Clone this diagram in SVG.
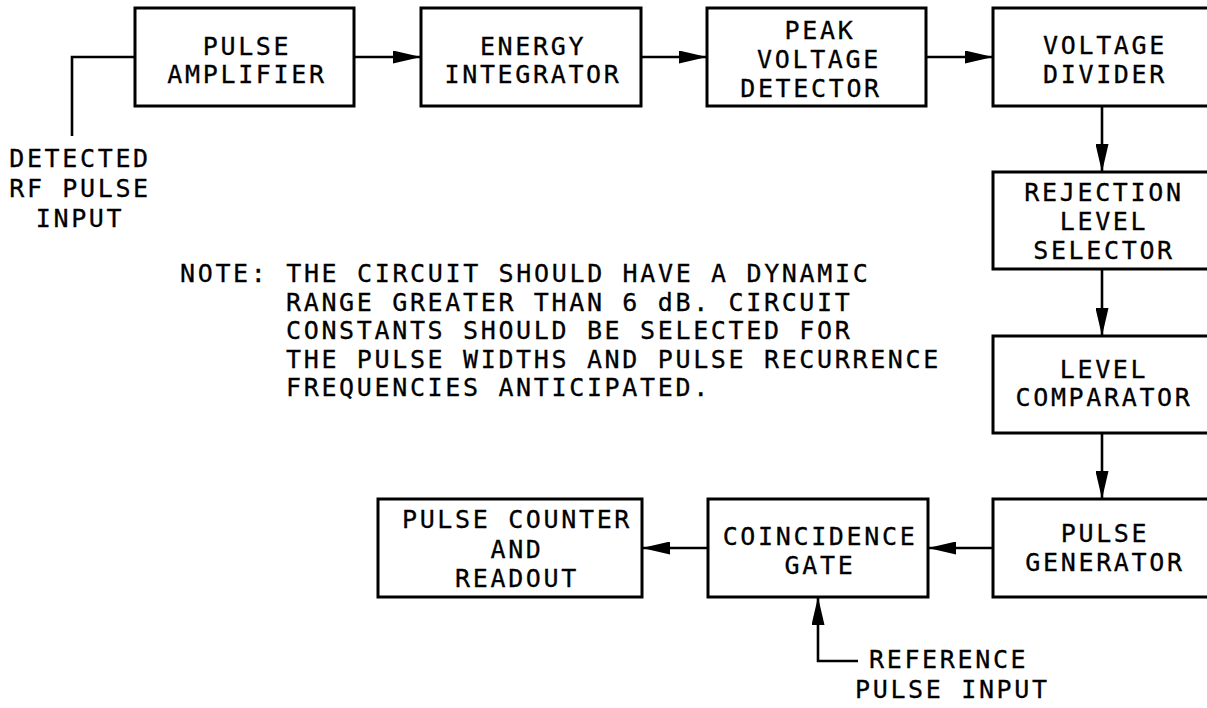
<svg xmlns="http://www.w3.org/2000/svg" width="1207" height="708" viewBox="0 0 1207 708">
<defs>
<style>
.box{fill:#fff;stroke:#000;stroke-width:3}
.ln{fill:none;stroke:#000;stroke-width:2.6}
.t{font-family:"DejaVu Sans Mono","Liberation Mono",monospace;font-size:25px;letter-spacing:2.65px;fill:#000;stroke:#000;stroke-width:0.3}
.c{text-anchor:middle}
</style>
<marker id="ah" markerUnits="userSpaceOnUse" markerWidth="28" markerHeight="13" refX="28" refY="6.5" orient="auto" viewBox="0 0 28 13">
<path d="M0,0 L28,6.5 L0,13 Z" fill="#000"/>
</marker>
</defs>
<rect width="1207" height="708" fill="#fff"/>
<g id="connectors">
<polyline class="ln" points="72,136 72,57 135,57"/>
<line class="ln" x1="354" y1="57" x2="421" y2="57" marker-end="url(#ah)"/>
<line class="ln" x1="641" y1="57" x2="707" y2="57" marker-end="url(#ah)"/>
<line class="ln" x1="926" y1="57" x2="993" y2="57" marker-end="url(#ah)"/>
<line class="ln" x1="1102" y1="106" x2="1102" y2="172" marker-end="url(#ah)"/>
<line class="ln" x1="1102" y1="269" x2="1102" y2="336" marker-end="url(#ah)"/>
<line class="ln" x1="1102" y1="433" x2="1102" y2="499" marker-end="url(#ah)"/>
<line class="ln" x1="993" y1="548" x2="928" y2="548" marker-end="url(#ah)"/>
<line class="ln" x1="708" y1="548" x2="642" y2="548" marker-end="url(#ah)"/>
<polyline class="ln" points="858,661 818,661 818,597" marker-end="url(#ah)"/>
</g>
<g id="pulse-amplifier">
<rect class="box" x="135" y="8" width="219" height="98"/>
<text class="t c" x="247" y="55">PULSE</text>
<text class="t c" x="247" y="83">AMPLIFIER</text>
</g>
<g id="energy-integrator">
<rect class="box" x="421" y="8" width="220" height="98"/>
<text class="t c" x="533" y="55">ENERGY</text>
<text class="t c" x="533" y="83">INTEGRATOR</text>
</g>
<g id="peak-voltage-detector">
<rect class="box" x="707" y="8" width="219" height="98"/>
<text class="t c" x="820" y="39">PEAK</text>
<text class="t c" x="819" y="68">VOLTAGE</text>
<text class="t c" x="811" y="97">DETECTOR</text>
</g>
<g id="voltage-divider">
<rect class="box" x="993" y="8" width="220" height="98"/>
<text class="t c" x="1105" y="54">VOLTAGE</text>
<text class="t c" x="1105" y="83">DIVIDER</text>
</g>
<g id="rejection-level-selector">
<rect class="box" x="993" y="172" width="220" height="97"/>
<text class="t c" x="1104" y="201">REJECTION</text>
<text class="t c" x="1104" y="230">LEVEL</text>
<text class="t c" x="1104" y="259">SELECTOR</text>
</g>
<g id="level-comparator">
<rect class="box" x="993" y="336" width="220" height="97"/>
<text class="t c" x="1104" y="378">LEVEL</text>
<text class="t c" x="1104" y="406">COMPARATOR</text>
</g>
<g id="pulse-generator">
<rect class="box" x="993" y="499" width="220" height="98"/>
<text class="t c" x="1105" y="542">PULSE</text>
<text class="t c" x="1105" y="571">GENERATOR</text>
</g>
<g id="coincidence-gate">
<rect class="box" x="708" y="499" width="220" height="98"/>
<text class="t c" x="820" y="545">COINCIDENCE</text>
<text class="t c" x="820" y="574">GATE</text>
</g>
<g id="pulse-counter">
<rect class="box" x="378" y="499" width="264" height="98"/>
<text class="t c" x="517" y="528">PULSE COUNTER</text>
<text class="t c" x="517" y="558">AND</text>
<text class="t c" x="517" y="587">READOUT</text>
</g>
<g id="input-label">
<text class="t c" x="80" y="167">DETECTED</text>
<text class="t c" x="80" y="197">RF PULSE</text>
<text class="t c" x="80" y="227">INPUT</text>
</g>
<g id="reference-label">
<text class="t" x="869" y="668">REFERENCE</text>
<text class="t" x="855" y="698">PULSE INPUT</text>
</g>
<g id="note">
<text class="t" x="180" y="282">NOTE: THE CIRCUIT SHOULD HAVE A DYNAMIC</text>
<text class="t" x="286" y="311">RANGE GREATER THAN 6 dB. CIRCUIT</text>
<text class="t" x="286" y="339">CONSTANTS SHOULD BE SELECTED FOR</text>
<text class="t" x="286" y="368">THE PULSE WIDTHS AND PULSE RECURRENCE</text>
<text class="t" x="286" y="396">FREQUENCIES ANTICIPATED.</text>
</g>
</svg>
